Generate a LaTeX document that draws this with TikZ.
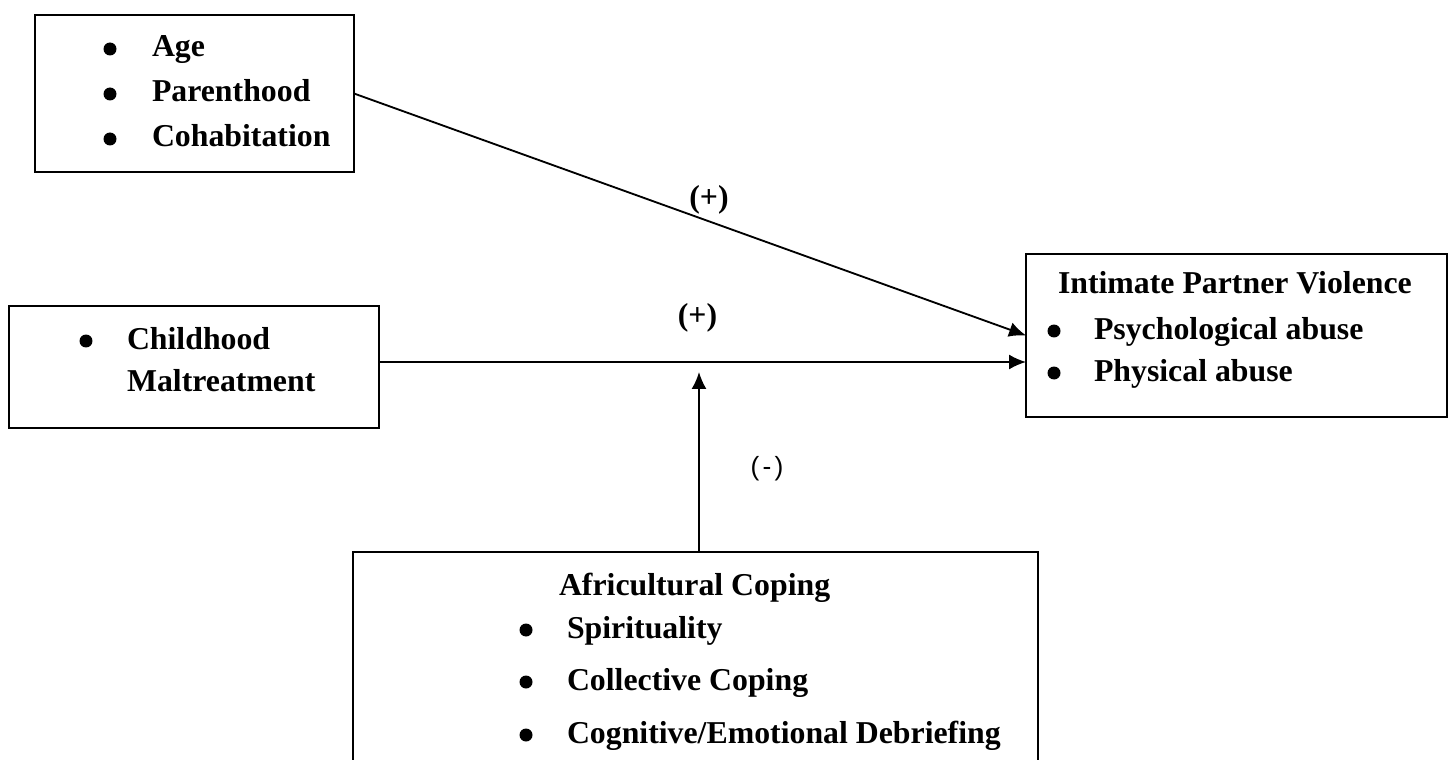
\documentclass[tikz,border=0pt]{standalone}
\usepackage{fontspec}
\setmainfont{Liberation Serif}
\newfontfamily\signfont{Liberation Sans}
\usetikzlibrary{arrows.meta}

\begin{document}
\begin{tikzpicture}[x=0.02cm, y=-0.02cm]
\tikzset{ >={Latex[length=0.34cm,width=0.3cm]}, inner sep=0pt, outer sep=0pt,
  box/.style={draw, line width=1.1pt},
  item/.style={anchor=base west, font=\bfseries\fontsize{18.1}{22}\selectfont},
  dot/.style={fill=black, circle, minimum size=0.26cm},
  sign/.style={font=\bfseries\fontsize{18.1}{22}\selectfont},
  link/.style={->, line width=1.05pt} }
%\draw [lightgray, dashed](0,0) grid[step=50] (1450,760);
\useasboundingbox (0,0) rectangle (1450,760);

% boxes
\node [box, minimum width=6.38cm, minimum height=3.14cm] (demo)  at (194.5,93.5) {};
\node [box, minimum width=7.40cm, minimum height=2.44cm] (child) at (194,367) {};
\node [box, minimum width=8.42cm, minimum height=3.26cm] (ipv)   at (1236.5,335.5) {};
\node [box, minimum width=13.70cm, minimum height=4.40cm] (afri) at (695.5,662) {};

% demographics
\node [dot]  (d1) at (110,49)  {};
\node [dot]  (d2) at (110,94)  {};
\node [dot]  (d3) at (110,139) {};
\node [item] (age)    at (152,57)  {Age};
\node [item] (parent) at (152,102) {Parenthood};
\node [item] (cohab)  at (152,147) {Cohabitation};

% childhood maltreatment
\node [dot]  (c1) at (86,341) {};
\node [item] (chd)  at (127,349) {Childhood};
\node [item] (malt) at (127,391) {Maltreatment};

% outcome
\node [item] (ipvT) at (1058,294) {Intimate Partner Violence};
\node [dot]  (v1) at (1054,331) {};
\node [dot]  (v2) at (1054,373) {};
\node [item] (psy)  at (1094,339) {Psychological abuse};
\node [item] (phy)  at (1094,381) {Physical abuse};

% moderator
\node [item] (afriT) at (559,595) {Africultural Coping};
\node [dot]  (a1) at (526,630) {};
\node [dot]  (a2) at (526,682) {};
\node [dot]  (a3) at (526,735) {};
\node [item] (spir) at (567,638) {Spirituality};
\node [item] (coll) at (567,690) {Collective Coping};
\node [item] (cogn) at (567,743) {Cognitive/Emotional Debriefing};

% paths
\coordinate (cm) at ([yshift=0.1cm]child.east);
\coordinate (am) at ([xshift=0.07cm]afri.north);
\coordinate (hit) at ([yshift=-0.2cm]am |- cm);

\draw [link] (demo.east) -- (ipv.west);
\draw [link] (cm) -- (cm -| ipv.west);
\draw [link] (am) -- (hit);

\node [sign] (p1) at (709,200) {(+)};
\node [sign] (p2) at (697.5,318) {(+)};
\node [font=\signfont\fontsize{15}{17}\selectfont] (m1) at (767,469) {(\kern.12em-\kern.12em)};

\end{tikzpicture}
\end{document}
